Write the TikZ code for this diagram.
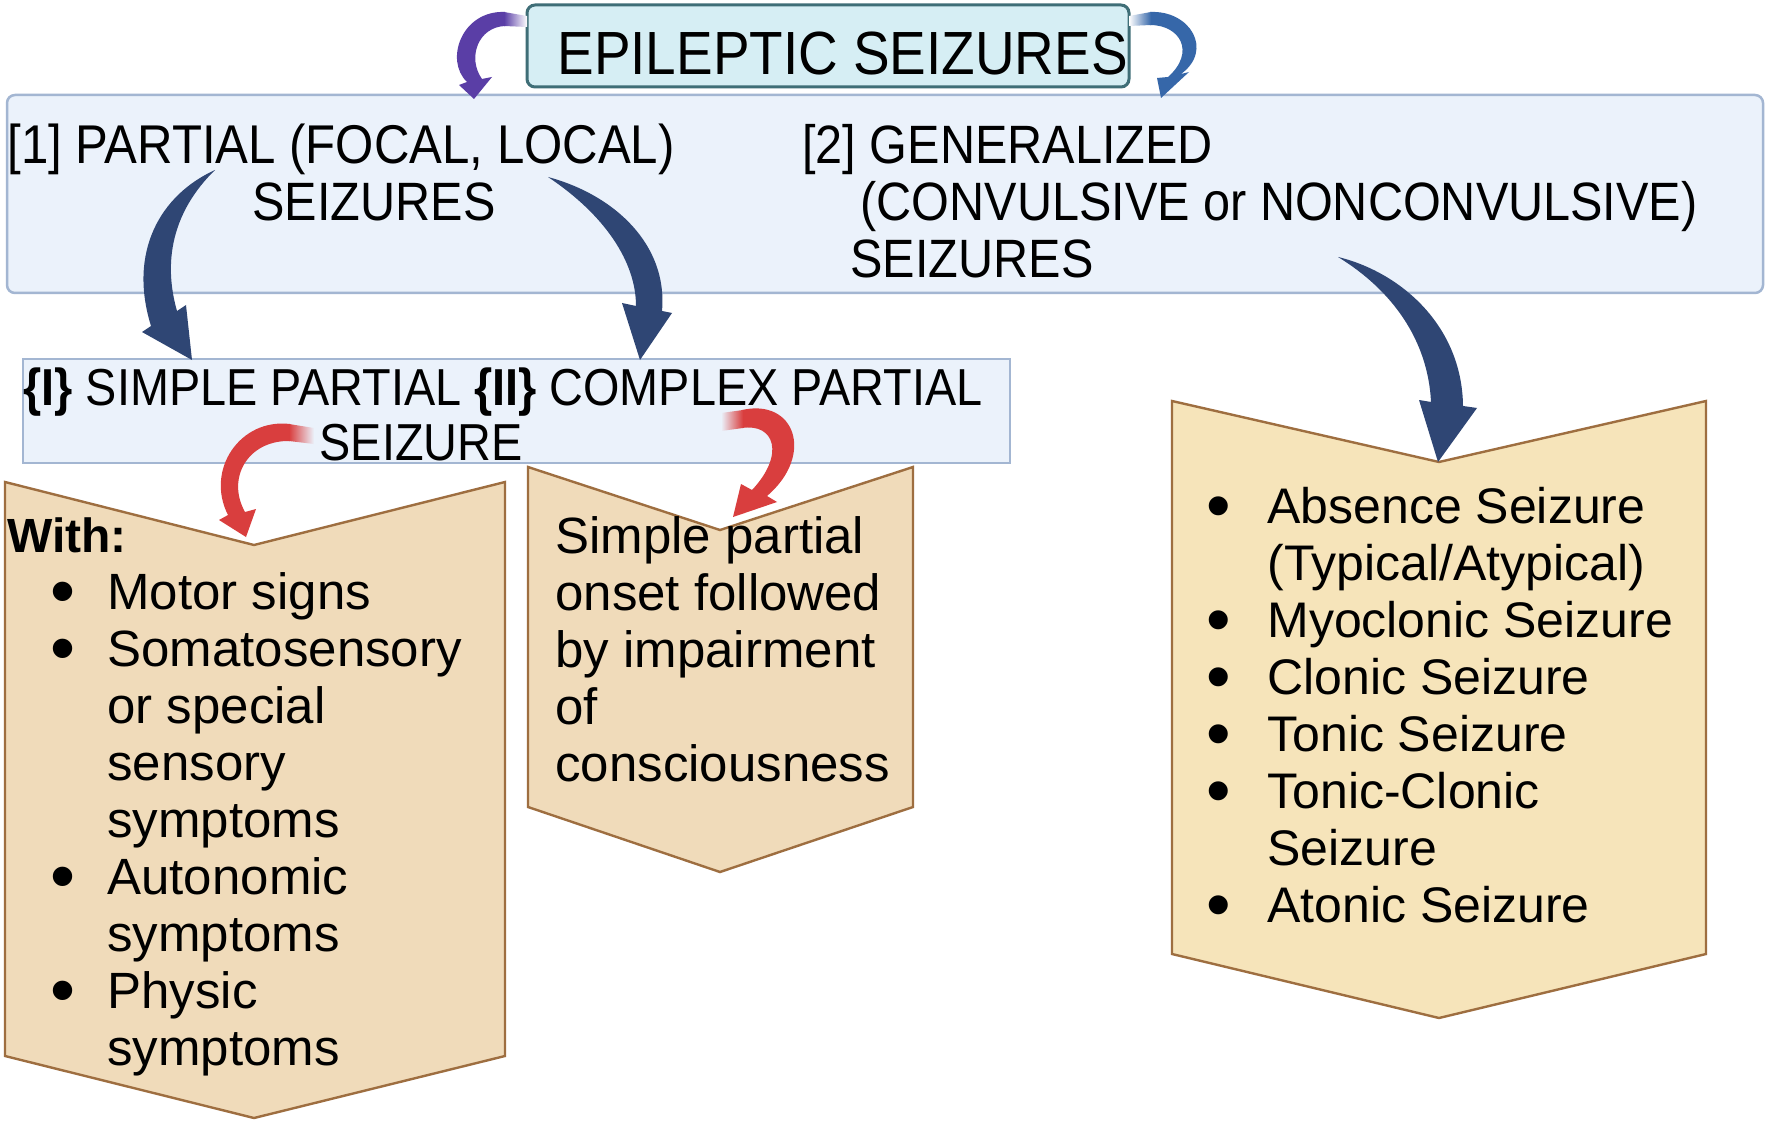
\documentclass[tikz,border=0pt]{standalone}
\usepackage{graphicx}
\usepackage{fontspec}
\setmainfont{Liberation Sans}
\newfontfamily\hfont[FakeStretch=0.9]{Liberation Sans}
\definecolor{titlefill}{HTML}{D6EEF4}
\definecolor{titledraw}{HTML}{3F6E77}
\definecolor{boxfill}{HTML}{EBF2FB}
\definecolor{boxdraw}{HTML}{A3B6D2}
\definecolor{tanfill}{HTML}{F0DBBA}
\definecolor{yelfill}{HTML}{F6E4BA}
\definecolor{tandraw}{HTML}{9E6E40}
\definecolor{navy}{HTML}{2F4674}
\definecolor{purp}{HTML}{5A3EA6}
\definecolor{steel}{HTML}{3667A9}
\definecolor{redarr}{HTML}{D93E3E}
\newcommand\bigdot{\raisebox{-3pt}{\scalebox{1.4}{•}}}
\newcommand\lbul{\leavevmode\makebox[50pt][l]{\hspace*{21.5pt}\bigdot}}
\newcommand\lind{\leavevmode\hspace*{50pt}}
\newcommand\rbul{\leavevmode\llap{\bigdot\hspace*{18pt}}}
\newcommand\stacklines[1]{\vtop{\hsize=300pt\parindent=0pt\raggedright #1}}
\begin{document}
\begin{tikzpicture}[x=0.5pt,y=-0.5pt,
  hd/.style={font=\hfont\fontsize{27}{30}\selectfont, inner sep=0pt, anchor=base west},
  sub/.style={font=\hfont\fontsize{26}{28}\selectfont, inner sep=0pt, anchor=base west},
  lst/.style={inner sep=0pt, anchor=base west, text=black},
  bluebox/.style={fill=boxfill, draw=boxdraw, line width=1.25pt},
  chev/.style={draw=tandraw, line width=1.2pt, line join=miter},
]
\useasboundingbox (0,0) rectangle (1770,1128);
\fill[white] (0,0) rectangle (1770,1128);

% main category box
\draw[bluebox, rounded corners=4pt] (7,95) rectangle (1763,293);
% title
\draw[fill=titlefill, draw=titledraw, line width=1.5pt, rounded corners=4pt] (527,5) rectangle (1129,87);
\node[anchor=base west, inner sep=0pt, font=\hfont\fontsize{30.5}{32}\selectfont] (title) at (557,75) {EPILEPTIC SEIZURES};

\node[hd, font=\hfont\fontsize{27.3}{30}\selectfont] (part) at (7,164) {[1] PARTIAL (FOCAL, LOCAL)};
\node[hd, anchor=base] (parts) at (374,221) {SEIZURES};
\node[hd] (gen1) at (802,164) {[2] GENERALIZED};
\node[hd] (gen2) at (860,221) {(CONVULSIVE or NONCONVULSIVE)};
\node[hd] (gen3) at (850,278) {SEIZURES};

% second box
\draw[bluebox] (23,359) rectangle (1010,463);
\node[sub] (sc1) at (23,405) {\textbf{\{I\}} SIMPLE PARTIAL \textbf{\{II\}} COMPLEX PARTIAL};
\node[sub, anchor=base] (sc2) at (421,460) {SEIZURE};

% chevrons
\draw[chev, fill=tanfill] (5,482) -- (254,545) -- (505,482) -- (505,1056) -- (254,1118) -- (5,1056) -- cycle;
\draw[chev, fill=tanfill] (528,467) -- (720,530) -- (913,467) -- (913,807) -- (720,872) -- (528,807) -- cycle;
\draw[chev, fill=yelfill] (1172,401) -- (1439,462) -- (1706,401) -- (1706,954) -- (1439,1018) -- (1172,954) -- cycle;

\node[lst, font=\fontsize{25.5}{28.5}\selectfont] (simple) at (7,552) {\stacklines{{\fontsize{24}{28.5}\selectfont\textbf{With:}}\\ \lbul Motor signs\\ \lbul Somatosensory\\ \lind or special\\ \lind sensory\\ \lind symptoms\\ \lbul Autonomic\\ \lind symptoms\\ \lbul Physic\\ \lind symptoms}};

\node[lst, font=\fontsize{25.5}{28.5}\selectfont] (complex) at (555,553) {\stacklines{Simple partial\\ onset followed\\ by impairment\\ of\\ consciousness}};

\node[lst, font=\fontsize{25}{28.5}\selectfont] (gen) at (1267,523) {\stacklines{\rbul Absence Seizure\\ \leavevmode(Typical/Atypical)\\ \rbul Myoclonic Seizure\\ \rbul Clonic Seizure\\ \rbul Tonic Seizure\\ \rbul Tonic-Clonic\\ \leavevmode Seizure\\ \rbul Atonic Seizure}};

% navy arrows
\fill[navy] (215,170) .. controls (160,195) and (128,252) .. (151,326) -- (142,332) -- (192,360) -- (186,305) -- (177,311) .. controls (163,262) and (172,212) .. (215,170) -- cycle;
\fill[navy] (548,177) .. controls (615,195) and (668,245) .. (662,311) -- (672,313) -- (640,360) -- (622,303) -- (636,306) .. controls (636,262) and (605,215) .. (548,177) -- cycle;
\fill[navy] (1338,257) .. controls (1400,272) and (1462,325) .. (1463,406) -- (1477,408) -- (1438,462) -- (1419,400) -- (1431,402) .. controls (1428,340) and (1392,290) .. (1338,257) -- cycle;

% purple arrow
\fill[purp] (505,12) .. controls (462,10) and (444,60) .. (467,82) -- (459,85) -- (474,99) -- (492,77) -- (482,79) .. controls (467,58) and (478,27) .. (505,26) -- cycle;
\shade[left color=purp, right color=white] (504,12) -- (527,16) -- (527,27) -- (504,26) -- cycle;
% blue arrow
\fill[steel] (1150,12) .. controls (1190,10) and (1214,50) .. (1181,74) -- (1189,72) -- (1161,98) -- (1157,78) -- (1168,77) .. controls (1196,52) and (1180,25) .. (1150,25) -- cycle;
\shade[left color=white, right color=steel] (1129,16) -- (1151,12) -- (1151,25) -- (1129,26) -- cycle;

% red arrows
\fill[redarr] (290,424) .. controls (240,418) and (205,470) .. (228,515) -- (219,520) -- (246,537) -- (256,509) -- (245,512) .. controls (226,478) and (248,440) .. (290,441) -- cycle;
\shade[left color=redarr, right color=boxfill] (289,424) -- (314,428) -- (314,444) -- (289,441) -- cycle;
\fill[redarr] (742,410) .. controls (795,398) and (815,455) .. (767,496) -- (777,502) -- (733,517) -- (741,484) -- (752,490) .. controls (785,455) and (775,423) .. (742,428) -- cycle;
\shade[left color=boxfill, right color=redarr] (721,413) -- (743,410) -- (743,428) -- (721,431) -- cycle;
\end{tikzpicture}
\end{document}
